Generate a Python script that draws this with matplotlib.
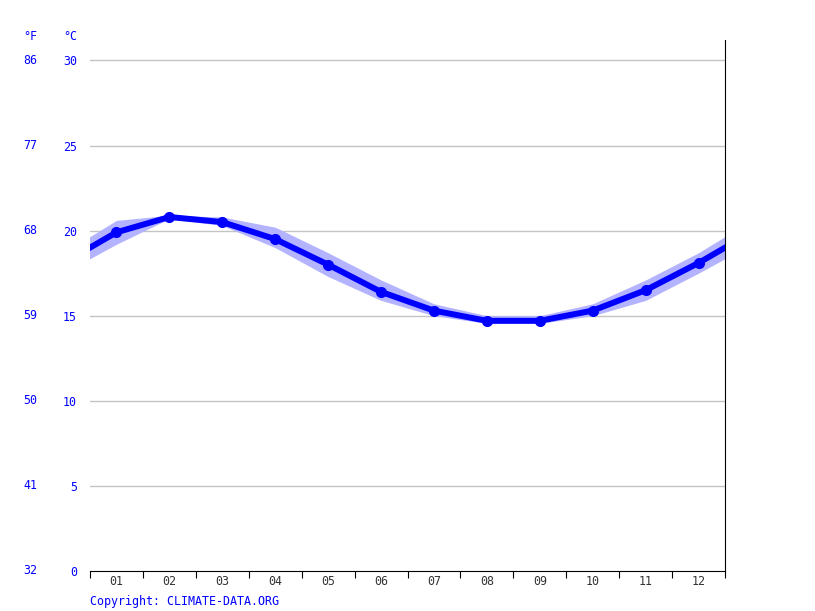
import numpy as np
import matplotlib.pyplot as plt
from matplotlib.transforms import blended_transform_factory

# mean water temperature per month, with min/max band
months = ['01', '02', '03', '04', '05', '06', '07', '08', '09', '10', '11', '12']
temp_mean = [19.9, 20.8, 20.5, 19.5, 18.0, 16.4, 15.3, 14.7, 14.7, 15.3, 16.5, 18.1]
temp_max = [20.6, 20.9, 20.8, 20.2, 18.7, 17.1, 15.7, 15.0, 15.0, 15.7, 17.1, 18.7]
temp_min = [19.2, 20.7, 20.3, 19.0, 17.3, 15.9, 15.0, 14.55, 14.55, 15.0, 15.9, 17.5]
c_ticks = [0, 5, 10, 15, 20, 25, 30]
f_ticks = [32, 41, 50, 59, 68, 77, 86]

blue = '#0000ff'
font = 'DejaVu Sans Mono'
fs = 8.4

fig = plt.figure(figsize=(8.15, 6.11), dpi=100)
ax = fig.add_axes([90 / 815, 40 / 611, 635 / 815, 531 / 611])

x = np.arange(12) + 0.5
# wrap around Dec/Jan so the curve runs to the edges
xw = np.concatenate([[-0.5], x, [12.5]])
mean_w = [temp_mean[-1]] + temp_mean + [temp_mean[0]]
max_w = [temp_max[-1]] + temp_max + [temp_max[0]]
min_w = [temp_min[-1]] + temp_min + [temp_min[0]]

ax.fill_between(xw, min_w, max_w, color='#b3b3ff', lw=0, zorder=2)
ax.plot(xw, mean_w, color=blue, lw=4.3, zorder=3, solid_joinstyle='round')
ax.plot(x, temp_mean, 'o', color=blue, ms=7, zorder=4)

ax.set_xlim(0, 12)
ax.set_ylim(0, 31.2)

for v in c_ticks[1:]:
    ax.axhline(v, color='#c4c4c4', lw=1, zorder=1)

ax.spines['top'].set_visible(False)
ax.spines['left'].set_visible(False)
ax.spines['right'].set_color('black')
ax.spines['bottom'].set_color('black')

ax.set_xticks(range(13))
ax.set_xticklabels([])
ax.set_xticks(x, minor=True)
ax.set_xticklabels(months, minor=True, fontfamily=font, fontsize=fs, color='#333333')
ax.tick_params(axis='x', which='major', length=5, color='black')
ax.tick_params(axis='x', which='minor', length=0, pad=3)

ax.set_yticks(c_ticks)
ax.set_yticklabels([str(v) for v in c_ticks], fontfamily=font, fontsize=fs, color=blue)
ax.tick_params(axis='y', length=0, pad=9.5)

tr = blended_transform_factory(fig.transFigure, ax.transData)
for c, f in zip(c_ticks, f_ticks):
    ax.text(30 / 815, c, str(f), transform=tr, ha='center', va='center',
            fontfamily=font, fontsize=fs, color=blue)

fig.text(30 / 815, 1 - 36 / 611, '°F', ha='center', va='center', fontfamily=font, fontsize=fs, color=blue)
fig.text(70 / 815, 1 - 36 / 611, '°C', ha='center', va='center', fontfamily=font, fontsize=fs, color=blue)
fig.text(90 / 815, 1 - 601 / 611, 'Copyright: CLIMATE-DATA.ORG', ha='left', va='center',
         fontfamily=font, fontsize=fs, color=blue)

fig.savefig('out.png', dpi=100)
